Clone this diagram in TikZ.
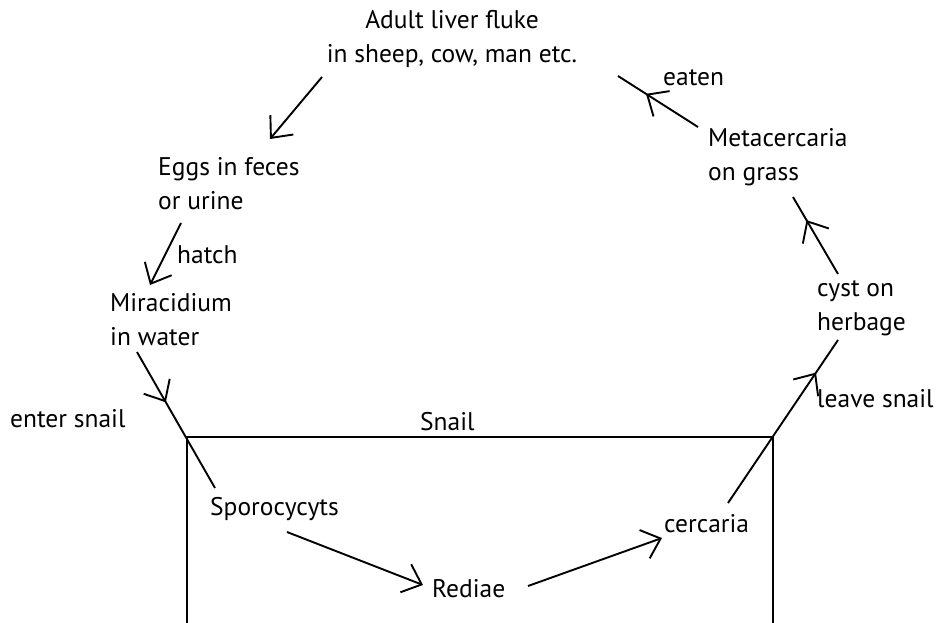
\documentclass[tikz,border=0pt]{standalone}
\usepackage{fontspec}
\setmainfont{PT Sans}
\usetikzlibrary{arrows.meta,decorations.markings}

\begin{document}
\begin{tikzpicture}[x=1pt, y=-1pt,
    lbl/.style={inner sep=0pt, anchor=base west, align=left, font=\fontsize{25.5}{34}\selectfont},
    wall/.style={line width=1.9pt},
    flow/.style={line width=1.9pt, -{Straight Barb[length=17pt, width=30pt, line width=1.9pt]}},
    midflow/.style={line width=1.9pt, postaction={decorate},
        decoration={markings, mark=at position #1 with {\arrow{Straight Barb[length=17pt, width=30pt, line width=1.9pt]}}}}
]

\useasboundingbox (0,0) rectangle (939,623);

% Stage labels (base = last line)
\node[lbl, anchor=base, align=center] (adult) at (452,63) {Adult liver fluke\\in sheep, cow, man etc.};
\node[lbl] (eggs) at (158,209) {Eggs in feces\\or urine};
\node[lbl] (mira) at (110,345) {Miracidium\\in water};
\node[lbl] (sporo) at (210,515) {Sporocycyts};
\node[lbl] (rediae) at (432,597) {Rediae};
\node[lbl] (cerc) at (664,532) {cercaria};
\node[lbl] (cyst) at (817,330) {cyst on\\herbage};
\node[lbl] (meta) at (708,180) {Metacercaria\\on grass};

% Arrow labels
\node[lbl] (hatch) at (177,263) {hatch};
\node[lbl] (enter) at (10,427) {enter snail};
\node[lbl] (leave) at (817,407) {leave snail};
\node[lbl] (eaten) at (663,86) {eaten};
\node[lbl] (snail) at (420,430) {Snail};

% Snail box (open at the bottom)
\coordinate (sw) at (187,623);
\coordinate (nw) at (187,437);
\coordinate (ne) at (773,437);
\coordinate (se) at (773,623);
\draw[wall] (sw) -- (nw) -- (ne) -- (se);

% Connector end points
\coordinate (a1) at (322,77);
\coordinate (e0) at (270,139);
\coordinate (e1) at (181,223);
\coordinate (m0) at (150,285);
\coordinate (m1) at (137,352);
\coordinate (s0) at (215,488);
\coordinate (s1) at (287,532);
\coordinate (r0) at (423,585);
\coordinate (r1) at (528,586);
\coordinate (c0) at (662,538);
\coordinate (c1) at (728,503);
\coordinate (y0) at (838,340);
\coordinate (y1) at (838,274);
\coordinate (t0) at (793,197);
\coordinate (t1) at (698,127);
\coordinate (f0) at (618,76);

% Life cycle
\draw[flow] (a1) -- (e0);
\draw[flow] (e1) -- (m0);
\draw[midflow=0.37] (m1) -- (s0);
\draw[flow] (s1) -- (r0);
\draw[flow] (r1) -- (c0);
\draw[midflow=0.8] (c1) -- (y0);
\draw[midflow=0.7] (y1) -- (t0);
\draw[midflow=0.65] (t1) -- (f0);

\end{tikzpicture}
\end{document}
